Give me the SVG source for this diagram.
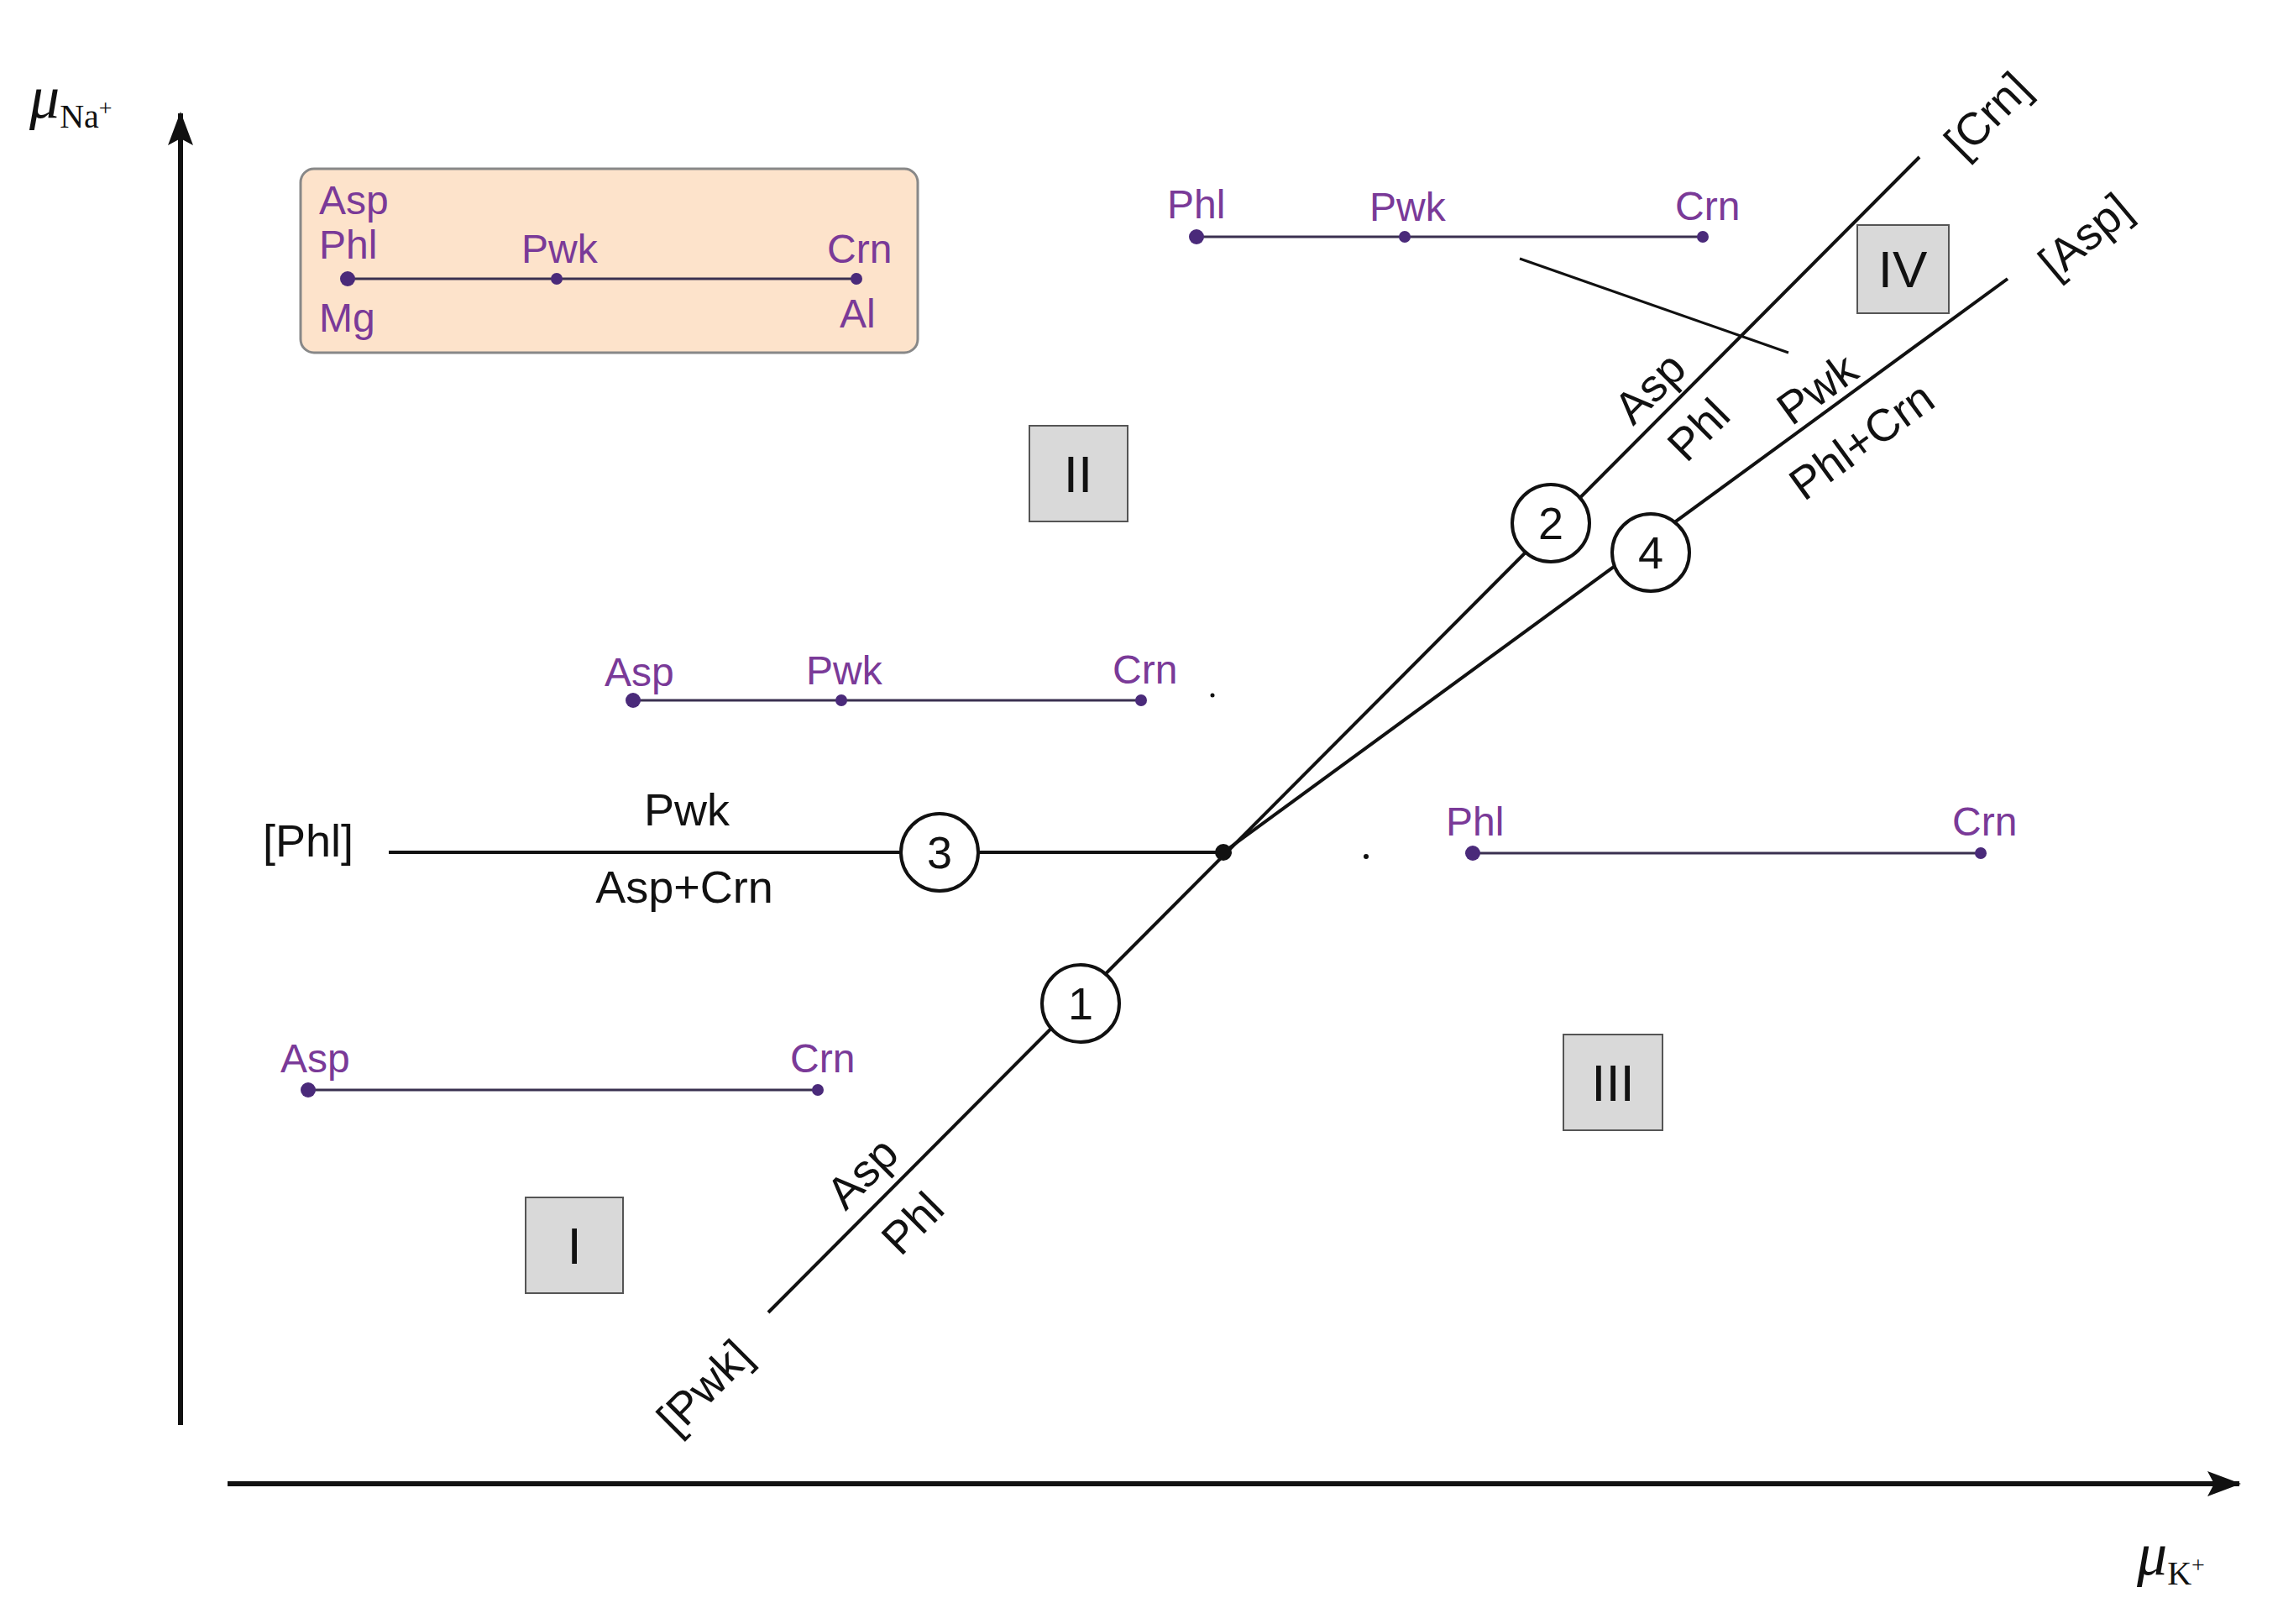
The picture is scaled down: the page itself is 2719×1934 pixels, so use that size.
<svg xmlns="http://www.w3.org/2000/svg" width="2719" height="1934" viewBox="0 0 2719 1934">
<style>
text{font-family:"Liberation Sans",Arial,sans-serif}
text.s{font-family:"Liberation Serif","Times New Roman",serif}
.b{font-size:54px;fill:#111}
.p{font-size:48px;fill:#7a3a98}
.r{font-size:62px;fill:#111}
.tie{stroke:#3a3050;stroke-width:3}
.ph{stroke:#111;stroke-width:4;fill:none}
.box{fill:#d9d9d9;stroke:#555;stroke-width:2}
.c{fill:#fff;stroke:#111;stroke-width:4}
.d{fill:#4a2a7a}
</style>
<defs>
<marker id="arb" markerWidth="40" markerHeight="30" refX="38" refY="15" orient="auto" markerUnits="userSpaceOnUse"><path d="M0,0L40,15L0,30L8,15z" fill="#111"/></marker></defs>
<rect width="2719" height="1934" fill="#fff"/>
<g id="axes">
<line x1="215" y1="1697" x2="215" y2="135" stroke="#111" stroke-width="6" marker-end="url(#arb)"/>
<line x1="271" y1="1767" x2="2667" y2="1767" stroke="#111" stroke-width="6" marker-end="url(#arb)"/>
<text class="s" x="35" y="140" font-style="italic" font-size="72" fill="#111">μ<tspan font-style="normal" font-size="40" dy="12">Na</tspan><tspan font-style="normal" font-size="28" dy="-14">+</tspan></text>
<text class="s" x="2545" y="1875" font-style="italic" font-size="72" fill="#111">μ<tspan font-style="normal" font-size="40" dy="12">K</tspan><tspan font-style="normal" font-size="28" dy="-14">+</tspan></text>
</g>
<g id="connectors">
<line class="ph" x1="463" y1="1015" x2="1457" y2="1015"/>
<line class="ph" x1="915" y1="1563" x2="2286" y2="187"/>
<line class="ph" x1="1457" y1="1015" x2="2391" y2="332"/>
<line x1="1810" y1="308" x2="2130" y2="420" stroke="#111" stroke-width="3"/>
<circle cx="1457" cy="1015" r="10" fill="#111"/>
<circle cx="1444" cy="828" r="2.5" fill="#111"/>
<circle cx="1627" cy="1020" r="3" fill="#111"/>
</g>
<g id="legend">
<rect x="358" y="201" width="735" height="219" rx="16" fill="#fde3cb" stroke="#888" stroke-width="3"/>
<line class="tie" x1="414" y1="332" x2="1020" y2="332"/>
<circle class="d" cx="414" cy="332" r="9"/><circle class="d" cx="663" cy="332" r="7"/><circle class="d" cx="1020" cy="332" r="7"/>
<text class="p" x="380" y="255">Asp</text><text class="p" x="380" y="308">Phl</text><text class="p" x="380" y="395">Mg</text>
<text class="p" x="621" y="313">Pwk</text><text class="p" x="985" y="313">Crn</text><text class="p" x="1000" y="390">Al</text>
</g>
<g id="tie-top">
<line class="tie" x1="1425" y1="282" x2="2028" y2="282"/>
<circle class="d" cx="1425" cy="282" r="9"/><circle class="d" cx="1673" cy="282" r="7"/><circle class="d" cx="2028" cy="282" r="7"/>
<text class="p" x="1390" y="260">Phl</text><text class="p" x="1631" y="263">Pwk</text><text class="p" x="1995" y="262">Crn</text>
</g>
<g id="tie-mid">
<line class="tie" x1="754" y1="834" x2="1359" y2="834"/>
<circle class="d" cx="754" cy="834" r="9"/><circle class="d" cx="1002" cy="834" r="7"/><circle class="d" cx="1359" cy="834" r="7"/>
<text class="p" x="720" y="817">Asp</text><text class="p" x="960" y="815">Pwk</text><text class="p" x="1325" y="814">Crn</text>
</g>
<g id="tie-right">
<line class="tie" x1="1754" y1="1016" x2="2359" y2="1016"/>
<circle class="d" cx="1754" cy="1016" r="9"/><circle class="d" cx="2359" cy="1016" r="7"/>
<text class="p" x="1722" y="995">Phl</text><text class="p" x="2325" y="995">Crn</text>
</g>
<g id="tie-low">
<line class="tie" x1="367" y1="1298" x2="974" y2="1298"/>
<circle class="d" cx="367" cy="1298" r="9"/><circle class="d" cx="974" cy="1298" r="7"/>
<text class="p" x="334" y="1277">Asp</text><text class="p" x="941" y="1277">Crn</text>
</g>
<g id="field-I"><rect class="box" x="626" y="1426" width="116" height="114"/><text class="r" x="684" y="1505" text-anchor="middle">I</text></g>
<g id="field-II"><rect class="box" x="1226" y="507" width="117" height="114"/><text class="r" x="1284" y="586" text-anchor="middle">II</text></g>
<g id="field-III"><rect class="box" x="1862" y="1232" width="118" height="114"/><text class="r" x="1921" y="1311" text-anchor="middle">III</text></g>
<g id="field-IV"><rect class="box" x="2212" y="268" width="109" height="105"/><text class="r" x="2266" y="342" text-anchor="middle">IV</text></g>
<g id="pt1"><circle class="c" cx="1287" cy="1195" r="46"/><text class="b" x="1287" y="1214" text-anchor="middle">1</text></g>
<g id="pt2"><circle class="c" cx="1847" cy="623" r="46"/><text class="b" x="1847" y="642" text-anchor="middle">2</text></g>
<g id="pt3"><circle class="c" cx="1119" cy="1015" r="46"/><text class="b" x="1119" y="1034" text-anchor="middle">3</text></g>
<g id="pt4"><circle class="c" cx="1966" cy="658" r="46"/><text class="b" x="1966" y="677" text-anchor="middle">4</text></g>
<g id="labels">
<text class="b" x="367" y="1020" text-anchor="middle">[Phl]</text>
<text class="b" x="818" y="983" text-anchor="middle">Pwk</text>
<text class="b" x="815" y="1075" text-anchor="middle">Asp+Crn</text>
<text class="b" text-anchor="middle" transform="translate(1040,1410) rotate(-45)">Asp</text>
<text class="b" text-anchor="middle" transform="translate(1100,1470) rotate(-45)">Phl</text>
<text class="b" text-anchor="middle" transform="translate(852,1665) rotate(-45)">[Pwk]</text>
<text class="b" text-anchor="middle" transform="translate(1978,475) rotate(-45)">Asp</text>
<text class="b" text-anchor="middle" transform="translate(2036,525) rotate(-45)">Phl</text>
<text class="b" text-anchor="middle" transform="translate(2175,478) rotate(-36)">Pwk</text>
<text class="b" text-anchor="middle" transform="translate(2228,540) rotate(-36)">Phl+Crn</text>
<text class="b" text-anchor="middle" transform="translate(2380,150) rotate(-45)">[Crn]</text>
<text class="b" text-anchor="middle" transform="translate(2495,295) rotate(-40)">[Asp]</text>
</g>
</svg>
